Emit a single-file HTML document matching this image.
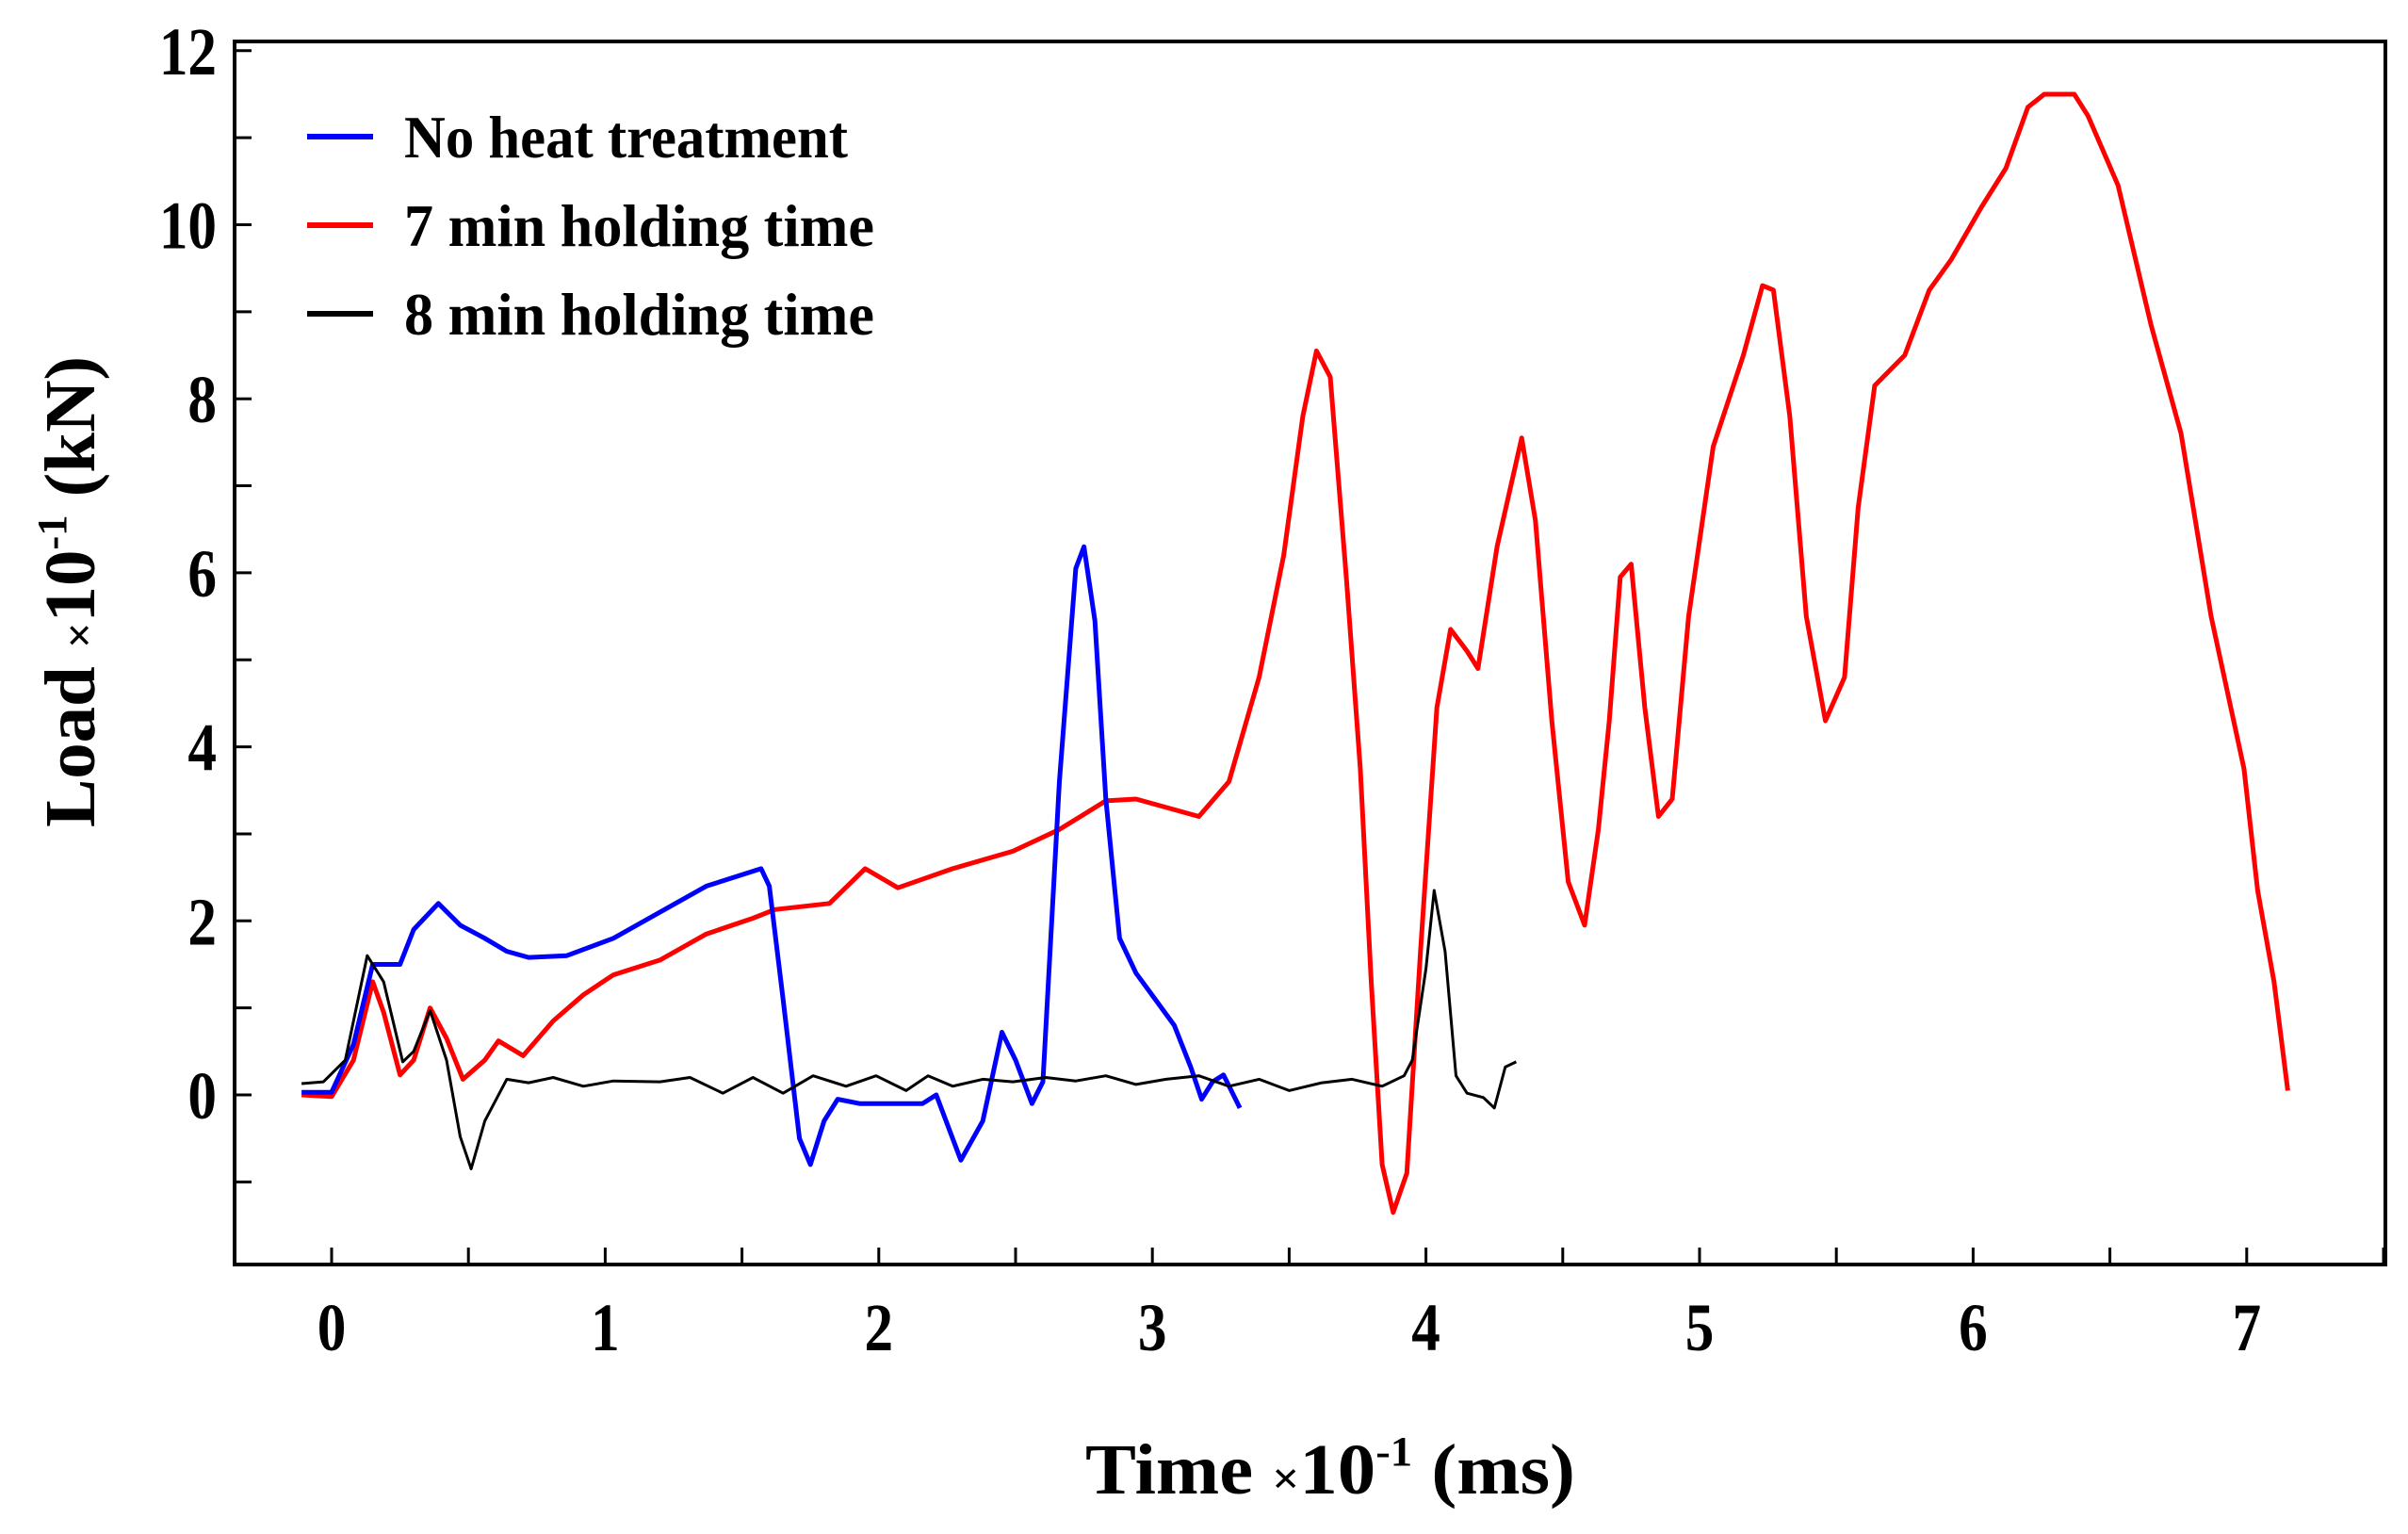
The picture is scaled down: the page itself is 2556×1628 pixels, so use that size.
<!DOCTYPE html>
<html><head><meta charset="utf-8"><style>
html,body{margin:0;padding:0;background:#fff}
svg{display:block}
text{font-family:"Liberation Serif","Times New Roman",serif;font-weight:bold;fill:#000}
</style></head><body>
<svg id="chart" width="2556" height="1628" viewBox="0 0 2556 1628" xmlns="http://www.w3.org/2000/svg">
<g id="axes"></g>
<g id="series"></g>
<g id="legend"></g>
<text x="1412" y="1585" font-size="76" text-anchor="middle" textLength="520" lengthAdjust="spacingAndGlyphs">Time <tspan font-size="48">×</tspan>10<tspan dy="-30" font-size="44">-1</tspan><tspan dy="30"> (ms)</tspan></text>
<text transform="translate(100,628) rotate(-90)" font-size="76" text-anchor="middle" textLength="500" lengthAdjust="spacingAndGlyphs">Load <tspan font-size="48">×</tspan>10<tspan dy="-30" font-size="44">-1</tspan><tspan dy="30"> (kN)</tspan></text>
</svg>
<script>
const xTicks=[0,1,2,3,4,5,6,7];
const yTicks=[0,2,4,6,8,10,12];
const blueX=[-0.11,0,0.08,0.15,0.25,0.30,0.39,0.47,0.56,0.64,0.72,0.86,1.03,1.2,1.37,1.57,1.6,1.65,1.71,1.75,1.8,1.85,1.93,2.16,2.21,2.27,2.3,2.38,2.45,2.5,2.56,2.6,2.66,2.72,2.75,2.79,2.83,2.88,2.94,3.01,3.08,3.14,3.18,3.22,3.26,3.32];
const blueY=[0.03,0.03,0.58,1.5,1.5,1.9,2.2,1.95,1.8,1.65,1.58,1.6,1.8,2.1,2.4,2.6,2.4,1.1,-0.5,-0.8,-0.3,-0.05,-0.1,-0.1,0,-0.5,-0.75,-0.3,0.72,0.4,-0.1,0.15,3.6,6.05,6.3,5.45,3.4,1.8,1.4,1.1,0.8,0.32,-0.05,0.15,0.23,-0.15];
const redX=[-0.11,0,0.08,0.15,0.19,0.25,0.3,0.36,0.42,0.48,0.56,0.61,0.7,0.81,0.92,1.03,1.2,1.37,1.54,1.62,1.82,1.95,2.07,2.27,2.49,2.66,2.83,2.94,3.17,3.28,3.39,3.48,3.55,3.6,3.65,3.71,3.76,3.8,3.84,3.88,3.93,3.98,4.04,4.09,4.15,4.19,4.26,4.35,4.4,4.46,4.52,4.58,4.63,4.67,4.71,4.75,4.8,4.85,4.9,4.96,5.05,5.16,5.23,5.27,5.33,5.39,5.46,5.53,5.58,5.64,5.75,5.84,5.92,6.03,6.12,6.2,6.26,6.37,6.42,6.53,6.65,6.76,6.87,6.99,7.04,7.1,7.15];
const redY=[0,-0.02,0.4,1.3,0.95,0.23,0.4,1.0,0.65,0.18,0.4,0.62,0.45,0.85,1.15,1.38,1.55,1.85,2.03,2.13,2.2,2.6,2.38,2.6,2.8,3.05,3.38,3.4,3.2,3.6,4.8,6.2,7.8,8.55,8.25,5.9,3.75,1.3,-0.8,-1.35,-0.9,1.65,4.45,5.35,5.1,4.9,6.3,7.55,6.6,4.3,2.45,1.95,3.05,4.3,5.95,6.1,4.45,3.2,3.4,5.5,7.45,8.5,9.3,9.25,7.8,5.5,4.3,4.8,6.75,8.15,8.5,9.25,9.6,10.2,10.65,11.35,11.5,11.5,11.25,10.45,8.85,7.6,5.5,3.75,2.35,1.3,0.05];
const blackX=[-0.11,-0.03,0.05,0.13,0.19,0.26,0.3,0.36,0.42,0.47,0.51,0.56,0.64,0.72,0.81,0.92,1.03,1.2,1.31,1.43,1.54,1.65,1.76,1.88,1.99,2.1,2.18,2.27,2.38,2.49,2.61,2.72,2.83,2.94,3.05,3.17,3.28,3.39,3.5,3.62,3.73,3.84,3.92,3.95,4.0,4.03,4.07,4.11,4.15,4.21,4.25,4.29,4.33];
const blackY=[0.13,0.15,0.4,1.6,1.3,0.38,0.5,0.97,0.4,-0.48,-0.85,-0.3,0.18,0.14,0.2,0.1,0.16,0.15,0.2,0.02,0.2,0.02,0.22,0.1,0.22,0.05,0.22,0.1,0.18,0.15,0.2,0.16,0.22,0.12,0.18,0.22,0.1,0.18,0.05,0.14,0.18,0.1,0.22,0.4,1.45,2.35,1.65,0.22,0.02,-0.03,-0.15,0.32,0.38];
const legendLabels=["No heat treatment","7 min holding time","8 min holding time"];
const legendWidths=[471,499,499];
const colors=["#0000ff","#ff0000","#000000"];

const NS="http://www.w3.org/2000/svg";
const L=249,R=2532,T=44,B=1342;
function sx(v){return 352+v*290.4;}
function sy(v){return 1162-v*92.35;}
function mk(tag,attrs,parent){const e=document.createElementNS(NS,tag);for(const k in attrs)e.setAttribute(k,attrs[k]);parent.appendChild(e);return e;}
const axes=document.getElementById('axes');
const frame=mk('rect',{x:L,y:T,width:R-L,height:B-T,fill:'none',stroke:'#000','stroke-width':4},axes);


for(let v=-0.5;v<=7.5;v+=0.5){const x=sx(v);if(x<L+2||x>R-2)continue;
 const t=mk('line',{x1:x,x2:x,y1:B,y2:B-18,stroke:'#000','stroke-width':3},axes);
 
 }
xTicks.forEach(v=>{const t=mk('text',{transform:'translate('+sx(v)+',1433) scale(0.85,1)','font-size':72,'text-anchor':'middle'},axes);t.textContent=v;
 
 });
for(let v=-1;v<=12;v+=1){const y=sy(v);if(y<T+2||y>B-2)continue;
 const t=mk('line',{x1:L,x2:L+18,y1:y,y2:y,stroke:'#000','stroke-width':3},axes);
 
 }
yTicks.forEach(v=>{const t=mk('text',{transform:'translate(230,'+(sy(v)+25)+') scale(0.85,1)','font-size':72,'text-anchor':'end'},axes);t.textContent=v;
 
 });
const ser=document.getElementById('series');
function line(xs,ys,c,w,name){const d=xs.map((x,i)=>(i?'L':'M')+sx(x).toFixed(1)+','+sy(ys[i]).toFixed(1)).join('');
 const p=mk('path',{d:d,fill:'none',stroke:c,'stroke-width':w,'stroke-linejoin':'round'},ser);
 
 }
line(redX,redY,colors[1],5,'series-7min');
line(blueX,blueY,colors[0],5,'series-no-heat');
line(blackX,blackY,colors[2],3,'series-8min');
const leg=document.getElementById('legend');
legendLabels.forEach((lab,i)=>{const y=145+i*94;
 const l=mk('line',{x1:326,x2:396,y1:y,y2:y,stroke:colors[i],'stroke-width':6},leg);
 
 
 const t=mk('text',{x:429,y:y+22,'font-size':64,textLength:legendWidths[i],lengthAdjust:'spacingAndGlyphs'},leg);t.textContent=lab;
 
 });
</script>
</body></html>
